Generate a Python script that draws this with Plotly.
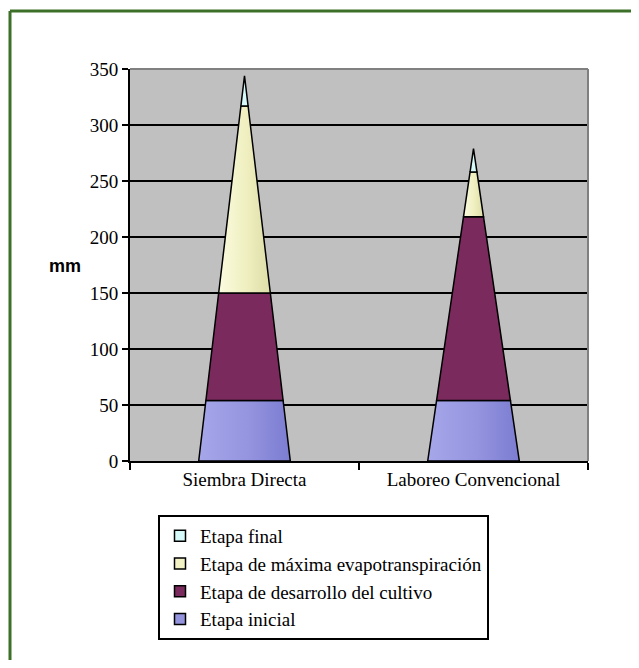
import plotly.graph_objects as go

categories = ["Siembra Directa", "Laboreo Convencional"]
stages = ["Etapa inicial", "Etapa de desarrollo del cultivo",
          "Etapa de máxima evapotranspiración", "Etapa final"]
inicial = [54, 54]
desarrollo = [96, 164]
maxima = [167, 40]
final = [27, 21]
series = [inicial, desarrollo, maxima, final]
y_ticks = [0, 50, 100, 150, 200, 250, 300, 350]

colors = ["#9494DE", "#7B2A5E", "#F2F2C4", "#D6FAFA"]
gradients = [
    [[0, "#A6A6EA"], [0.5, "#9696E0"], [1, "#7C7CD2"]],
    None,
    [[0, "#FBFBE0"], [0.5, "#F0F0C2"], [1, "#DEDEA8"]],
    None,
]

BASE_W = 0.40  # base width of each pyramid (in category units)

fig = go.Figure()

for ci, cat in enumerate(categories):
    total = sum(s[ci] for s in series)
    lo = 0
    for si, s in enumerate(series):
        hi = lo + s[ci]
        hw_lo = BASE_W / 2 * (1 - lo / total)
        hw_hi = BASE_W / 2 * (1 - hi / total)
        xs = [ci - hw_lo, ci + hw_lo, ci + hw_hi, ci - hw_hi, ci - hw_lo]
        ys = [lo, lo, hi, hi, lo]
        kw = dict(x=xs, y=ys, mode="lines", fill="toself",
                  fillcolor=colors[si],
                  line=dict(color="black", width=1.5),
                  showlegend=False, hoverinfo="skip")
        if gradients[si] is not None:
            kw["fillgradient"] = dict(type="horizontal", colorscale=gradients[si])
        fig.add_trace(go.Scatter(**kw))
        lo = hi

# legend entries (top to bottom: final ... inicial)
for si in range(len(stages) - 1, -1, -1):
    fig.add_trace(go.Scatter(
        x=[None], y=[None], mode="markers", name=stages[si],
        marker=dict(symbol="square", size=11, color=colors[si],
                    line=dict(color="black", width=1.5)),
        showlegend=True))

serif = "Liberation Serif, Times New Roman, serif"

# page offset of the figure (default body margin)
OFF = 8
FIG_W, FIG_H = 631, 652
PL, PR, PT, PB = 130 - OFF, 588 - OFF, 69 - OFF, 461 - OFF
PW, PH = PR - PL, PB - PT


def px(xp):
    return (xp - OFF - PL) / PW


def py(yp):
    return (PB - (yp - OFF)) / PH


fig.update_layout(
    width=FIG_W, height=FIG_H,
    paper_bgcolor="white",
    plot_bgcolor="#C0C0C0",
    margin=dict(l=PL, r=FIG_W - PR, t=PT, b=FIG_H - PB),
    showlegend=True,
    legend=dict(
        x=px(158), y=py(515), xanchor="left", yanchor="top",
        bgcolor="white", bordercolor="black", borderwidth=2,
        font=dict(family=serif, size=19, color="black"),
        traceorder="normal", itemwidth=30,
        tracegroupgap=0,
    ),
    xaxis=dict(
        range=[-0.5, len(categories) - 0.5],
        tickvals=list(range(len(categories))),
        ticktext=categories,
        ticks="", showgrid=False, zeroline=False,
        showline=True, linecolor="black", linewidth=2,
        tickfont=dict(family=serif, size=19, color="black"),
        minor=dict(tick0=-0.5, dtick=1, ticks="outside", ticklen=7,
                   tickcolor="black", tickwidth=2, showgrid=False),
        fixedrange=True,
    ),
    yaxis=dict(
        range=[0, 350], tickvals=y_ticks,
        showgrid=True, gridcolor="black", gridwidth=2,
        zeroline=False,
        showline=True, linecolor="black", linewidth=2,
        ticks="outside", ticklen=6, tickcolor="black", tickwidth=2,
        tickfont=dict(family=serif, size=19, color="black"),
        fixedrange=True,
    ),
    shapes=[
        # grey plot-area border (top/right)
        dict(type="line", xref="paper", yref="paper", x0=0, x1=1, y0=1, y1=1,
             line=dict(color="#808080", width=2), layer="above"),
        dict(type="line", xref="paper", yref="paper", x0=1, x1=1, y0=0, y1=1,
             line=dict(color="#808080", width=2), layer="above"),
        # green frame (top and left)
        dict(type="line", xref="paper", yref="paper",
             x0=px(10), x1=px(OFF + FIG_W), y0=py(11), y1=py(11),
             line=dict(color="#3C7029", width=3)),
        dict(type="line", xref="paper", yref="paper",
             x0=px(10), x1=px(10), y0=py(11), y1=py(OFF + FIG_H),
             line=dict(color="#3C7029", width=3)),
    ],
    annotations=[
        dict(text="mm", xref="paper", yref="paper",
             x=px(65), y=py(266),
             xanchor="center", yanchor="middle", showarrow=False,
             font=dict(family="Liberation Sans, Arial, sans-serif",
                       size=18, color="black", weight="bold")),
    ],
)

fig.write_html("out.html")
